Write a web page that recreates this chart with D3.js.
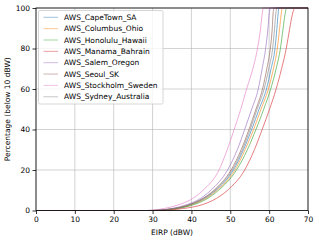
<!DOCTYPE html>
<html lang="en">
<head>
    <meta charset="UTF-8"/>
    <script src="https://d3js.org/d3.v7.min.js"></script>
    <style>
        body { margin: 0; background: #fff; }
        text { font-family: "DejaVu Sans", sans-serif; font-size: 7.5px; fill: #000; }
    </style>
</head>
<body>
<div id="chart"></div>
<script>
    // percentage levels shared by all series
    const pctLevels = [0, 1, 3, 5, 10, 20, 30, 40, 50, 60, 70, 80, 90, 97, 100];

    const stations = ["AWS_CapeTown_SA", "AWS_Columbus_Ohio", "AWS_Honolulu_Hawaii", "AWS_Manama_Bahrain",
        "AWS_Salem_Oregon", "AWS_Seoul_SK", "AWS_Stockholm_Sweden", "AWS_Sydney_Australia"];

    // EIRP (dBW) where each curve reaches the percentage level above
    const capeTown  = [29, 36, 40, 42.5, 46.3, 50.8, 53.4, 55.5, 57.4, 59.3, 60.5, 61.5, 62.0, 62.3, 62.5];
    const columbus  = [29.5, 36, 40.3, 42.8, 46.6, 51.2, 53.8, 56.0, 57.9, 59.8, 61.1, 62.1, 62.7, 63.1, 63.4];
    const honolulu  = [30, 36.5, 40.8, 43.3, 47, 51.6, 54.4, 56.6, 58.6, 60.4, 61.8, 62.9, 63.6, 64.1, 64.5];
    const manama    = [31, 38, 43, 45.5, 49.3, 53.7, 56.2, 58.2, 60.1, 61.8, 63.2, 64.4, 65.3, 66.0, 66.6];
    const salem     = [29, 35, 39, 41.5, 45, 49.3, 51.8, 53.7, 55.5, 57.2, 58.2, 59.1, 59.7, 60.0, 60.3];
    const seoul     = [29, 35.5, 39.5, 42, 45.8, 50.2, 52.8, 54.8, 56.6, 58.3, 59.4, 60.3, 60.8, 61.0, 61.3];
    const stockholm = [28, 33, 37, 39.5, 43, 47.1, 49.2, 51.0, 52.7, 54.2, 55.8, 57.0, 57.8, 58.2, 58.5];
    const sydney    = [29, 35.5, 39.8, 42.2, 46, 50.5, 53.1, 55.1, 56.9, 58.7, 59.9, 60.9, 61.4, 61.7, 62.0];

    const seriesValues = [capeTown, columbus, honolulu, manama, salem, seoul, stockholm, sydney];
    const colors = ["#1f77b4", "#ff7f0e", "#2ca02c", "#d62728", "#9467bd", "#8c564b", "#e377c2", "#7f7f7f"];

    const xTicks = [0, 10, 20, 30, 40, 50, 60, 70];
    const yTicks = [0, 20, 40, 60, 80, 100];

    const W = 319, H = 240;
    const margin = {top: 8, right: 11, bottom: 29.5, left: 36};

    const svg = d3.select("#chart").append("svg")
        .attr("width", W).attr("height", H);

    const x = d3.scaleLinear().domain([0, 70]).range([margin.left, W - margin.right]);
    const y = d3.scaleLinear().domain([0, 100]).range([H - margin.bottom, margin.top]);

    // grid
    svg.append("g").selectAll("line").data(xTicks).join("line")
        .attr("x1", d => x(d)).attr("x2", d => x(d))
        .attr("y1", y(0)).attr("y2", y(100))
        .attr("stroke", "#b0b0b0").attr("stroke-opacity", 0.7).attr("stroke-width", 0.8);
    svg.append("g").selectAll("line").data(yTicks).join("line")
        .attr("x1", x(0)).attr("x2", x(70))
        .attr("y1", d => y(d)).attr("y2", d => y(d))
        .attr("stroke", "#b0b0b0").attr("stroke-opacity", 0.7).attr("stroke-width", 0.8);

    // curves
    const line = d3.line()
        .x(d => x(d[0]))
        .y(d => y(d[1]))
        .curve(d3.curveMonotoneX);

    seriesValues.forEach(function(vals, i) {
        const pts = [[0, 0]].concat(vals.map((v, k) => [v, pctLevels[k]]), [[70, 100]]);
        svg.append("path")
            .datum(pts)
            .attr("fill", "none")
            .attr("stroke", colors[i])
            .attr("stroke-opacity", 0.75)
            .attr("stroke-width", 0.8)
            .attr("d", line);
    });

    // axes
    const xAxis = svg.append("g")
        .attr("transform", "translate(0," + y(0) + ")")
        .call(d3.axisBottom(x).tickValues(xTicks).tickSize(3.5).tickPadding(2.5));
    const yAxis = svg.append("g")
        .attr("transform", "translate(" + x(0) + ",0)")
        .call(d3.axisLeft(y).tickValues(yTicks).tickSize(3.5).tickPadding(2.5));
    [xAxis, yAxis].forEach(function(a) {
        a.select(".domain").remove();
        a.selectAll("line").attr("stroke", "#000").attr("stroke-width", 0.8);
        a.selectAll("text").style("font-family", "DejaVu Sans").style("font-size", "7.5px");
    });

    // frame
    svg.append("rect")
        .attr("x", x(0)).attr("y", y(100))
        .attr("width", x(70) - x(0)).attr("height", y(0) - y(100))
        .attr("fill", "none").attr("stroke", "#000").attr("stroke-width", 0.8);

    // axis labels
    svg.append("text").attr("text-anchor", "middle")
        .attr("x", (x(0) + x(70)) / 2).attr("y", 234.5).text("EIRP (dBW)");
    svg.append("text").attr("text-anchor", "middle")
        .attr("transform", "translate(10," + (y(0) + y(100)) / 2 + ") rotate(-90)")
        .text("Percentage (below 10 dBW)");

    // legend
    const lg = svg.append("g").attr("transform", "translate(38.5,10.5)");
    lg.append("rect")
        .attr("width", 124.5).attr("height", 93.5).attr("rx", 1.5)
        .attr("fill", "#fff").attr("fill-opacity", 0.8)
        .attr("stroke", "#cccccc").attr("stroke-width", 0.8);
    stations.forEach(function(name, i) {
        const yy = 6.8 + i * 11.35;
        lg.append("line")
            .attr("x1", 5).attr("x2", 19.5).attr("y1", yy).attr("y2", yy)
            .attr("stroke", colors[i]).attr("stroke-opacity", 0.55).attr("stroke-width", 0.8);
        lg.append("text")
            .attr("x", 25.5).attr("y", yy).attr("dy", "0.35em").text(name);
    });
</script>
</body>
</html>
